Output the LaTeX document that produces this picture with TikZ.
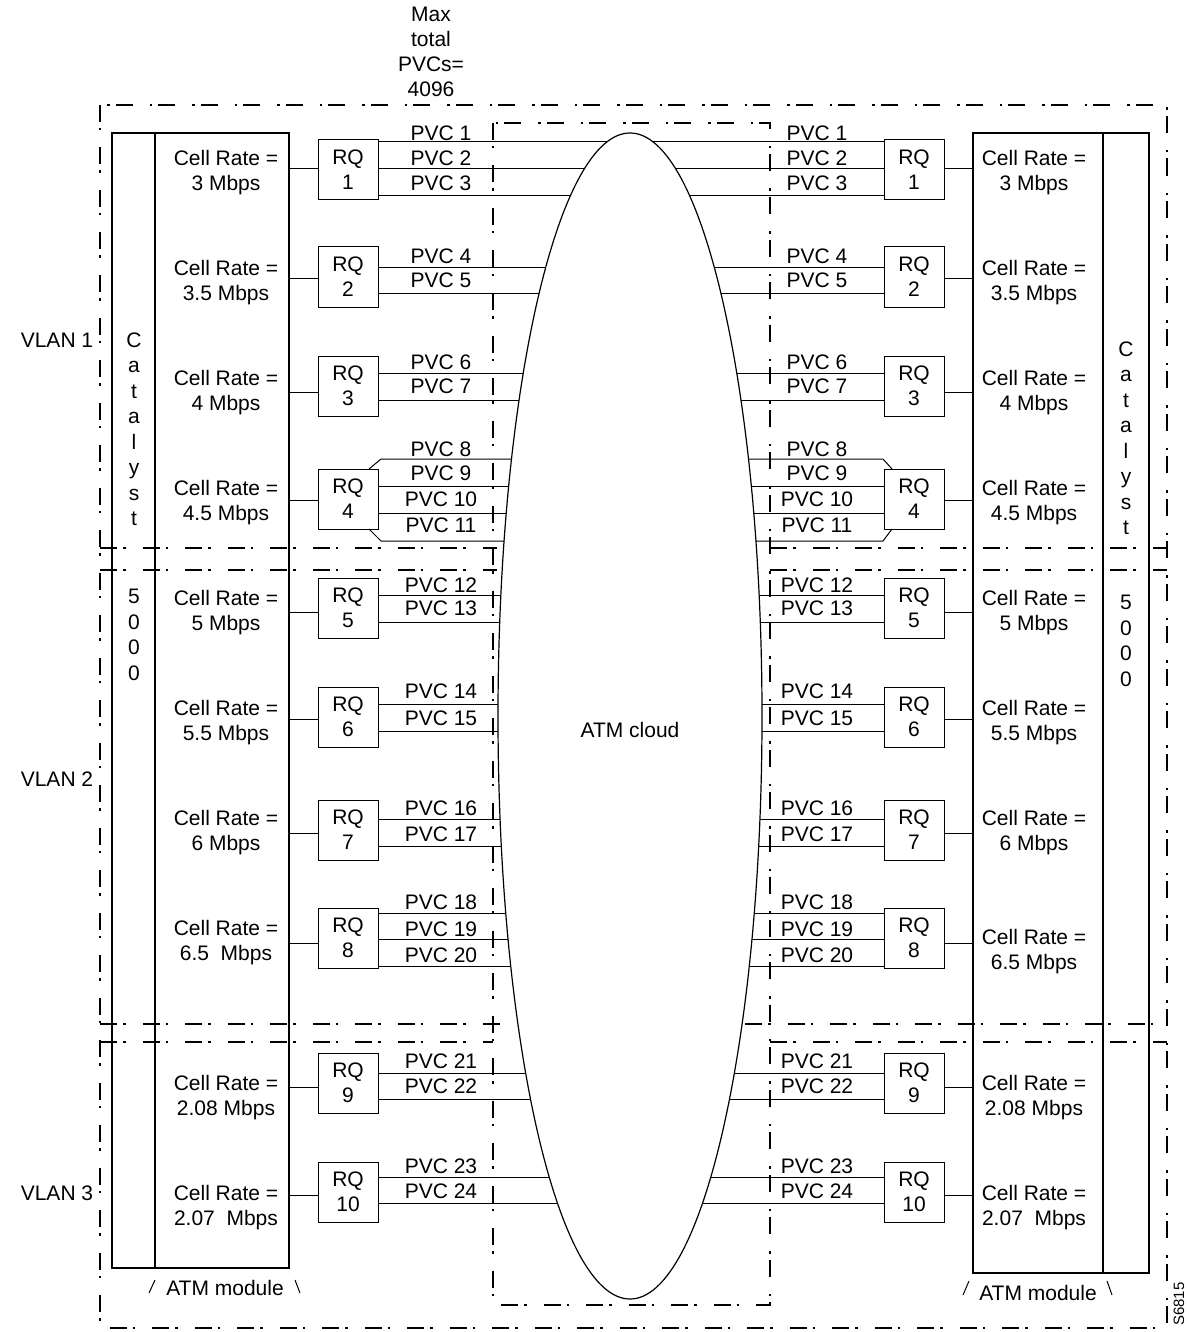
\documentclass[tikz,border=0pt]{standalone}
\usepackage{fontspec}
\setmainfont{Liberation Sans}
\usetikzlibrary{shapes.geometric}
\begin{document}
\begin{tikzpicture}[x=1pt,y=-1pt,
  every node/.style={inner sep=0pt, outer sep=0pt, font=\fontsize{21}{25}\selectfont},
  ddline/.style={line width=2.3pt, dash pattern=on 17pt off 6pt on 2.5pt off 17pt},
  conn/.style={line width=1pt},
  rqbox/.style={draw, line width=1pt, minimum width=60pt, minimum height=60pt, align=center},
  modbox/.style={draw, line width=1.1pt, anchor=north west},
  txt/.style={align=center},
  lbl/.style={anchor=base},
  vert/.style={align=center, font=\fontsize{21}{25.5}\selectfont},
]
\useasboundingbox (0,0) rectangle (1188,1332);

% dash-dot frames
\draw[ddline] (100,105) rectangle (1167,1328);
\draw[ddline] (493,123) rectangle (770,1305);
\draw[ddline] (100,548) -- (497,548);
\draw[ddline] (100,570) -- (497,570);
\draw[ddline] (100,1024) -- (505,1024);
\draw[ddline] (100,1042) -- (493,1042);
\draw[ddline] (770,548) -- (1167,548);
\draw[ddline] (770,570) -- (1167,570);
\draw[ddline] (745,1024) -- (1167,1024);
\draw[ddline] (770,1042) -- (1167,1042);

% modules
\node[modbox, minimum width=177pt, minimum height=1135pt] (modL) at (112,133) {};
\draw[line width=1.1pt] (modL.north west) ++(43,0) -- ++(0,1135);
\node[modbox, minimum width=176pt, minimum height=1140pt] (modR) at (973,133) {};
\draw[line width=1.1pt] (modR.north east) ++(-46,0) -- ++(0,1140);

% vertical Catalyst 5000 text
\node[vert] (catL) at (134,429) {C\\a\\t\\a\\l\\y\\s\\t};
\node[vert] (numL) at (134,635) {5\\0\\0\\0};
\node[vert] (catR) at (1126,438) {C\\a\\t\\a\\l\\y\\s\\t};
\node[vert] (numR) at (1126,641) {5\\0\\0\\0};

% ATM cloud
\node[draw, ellipse, line width=1.2pt, minimum width=264pt, minimum height=1166pt] (cloud) at (630,716) {};
\node (cloudtxt) at (630,730) {ATM cloud};

% RQ boxes and links to modules
\foreach \i/\cy/\s in {1/170/1, 2/277/-1, 3/386/-6, 4/499/-1, 5/608/-4, 6/717/-2, 7/830/-3, 8/938/-5, 9/1083/-4, 10/1192/-3}{
  \node[rqbox] (rqL\i) at (348,\cy) {RQ\\\i};
  \node[rqbox] (rqR\i) at (914,\cy) {RQ\\\i};
  \draw[conn] ([yshift=\s pt]rqL\i.west) -- ++(-29,0);
  \draw[conn] ([yshift=\s pt]rqR\i.east) -- ++(29,0);
}

% PVC lines
\foreach \r/\y/\b/\n in {1/142/141/1, 1/169/166/2, 1/196/191/3,
  2/267/263/4, 2/293/287/5, 3/373/369/6, 3/400/393/7,
  4/486/480/9, 4/513/506/10, 5/595/592/12, 5/622/615/13,
  6/704/698/14, 6/731/725/15, 7/819/815/16, 7/846/841/17,
  8/913/909/18, 8/939/936/19, 8/966/962/20,
  9/1073/1068/21, 9/1099/1093/22, 10/1177/1173/23, 10/1203/1198/24}{
  \pgfmathsetmacro\dx{132*sqrt(1-((\y-716)/583)^2)}
  \draw[conn] (rqL\r.east |- 0,\y) -- (630-\dx,\y);
  \draw[conn] (rqR\r.west |- 0,\y) -- (630+\dx,\y);
  \node[lbl] (pL\n) at (441,\b) {PVC \n};
  \node[lbl] (pR\n) at (817,\b) {PVC \n};
}
\pgfmathsetmacro\ea{132*sqrt(1-((459-716)/583)^2)}
\pgfmathsetmacro\eb{132*sqrt(1-((541-716)/583)^2)}
\draw[conn] ([xshift=-9pt]rqL4.north east) -- ++(12,-10) -- (630-\ea,459);
\draw[conn] ([xshift=-9pt]rqL4.south east) -- ++(12,12) -- (630-\eb,541);
\draw[conn] ([xshift=8pt]rqR4.north west) -- ++(-9,-10) -- (630+\ea,459);
\draw[conn] ([xshift=8pt]rqR4.south west) -- ++(-9,12) -- (630+\eb,541);
\node[lbl] (pL8) at (441,456) {PVC 8};
\node[lbl] (pR8) at (817,456) {PVC 8};
\node[lbl] (pL11) at (441,532) {PVC 11};
\node[lbl] (pR11) at (817,532) {PVC 11};

% cell rates
\foreach \i/\yl/\yr/\ra/\rb in {1/172.5/172.5/3 Mbps/3 Mbps, 2/282.5/282.5/3.5 Mbps/3.5 Mbps,
  3/392.5/392.5/4 Mbps/4 Mbps, 4/502.5/502.5/4.5 Mbps/4.5 Mbps,
  5/612.5/612.5/5 Mbps/5 Mbps, 6/722.5/722.5/5.5 Mbps/5.5 Mbps,
  7/832.5/832.5/6 Mbps/6 Mbps, 8/942.5/951.5/6.5\ \ Mbps/6.5 Mbps,
  9/1097.5/1097.5/2.08 Mbps/2.08 Mbps, 10/1207.5/1207.5/2.07\ \ Mbps/2.07\ \ Mbps}{
  \node[txt] (crL\i) at (226,\yl) {Cell Rate =\\\ra};
  \node[txt] (crR\i) at (1034,\yr) {Cell Rate =\\\rb};
}

% VLAN labels
\node (vlan1) at (57,340) {VLAN 1};
\node (vlan2) at (57,779) {VLAN 2};
\node (vlan3) at (57,1193) {VLAN 3};

% top label
\node[txt] (maxpvc) at (431,52) {Max\\total\\PVCs=\\4096};

% ATM module labels
\node (atmL) at (225,1288) {ATM module};
\draw[conn] (149,1293) -- (155,1280);
\draw[conn] (295,1280) -- (300,1293);
\node (atmR) at (1038,1293) {ATM module};
\draw[conn] (963,1295) -- (969,1281);
\draw[conn] (1107,1281) -- (1112,1295);

\node[rotate=90, font=\fontsize{15}{18}\selectfont] (code) at (1179,1304) {S6815};
\end{tikzpicture}
\end{document}
